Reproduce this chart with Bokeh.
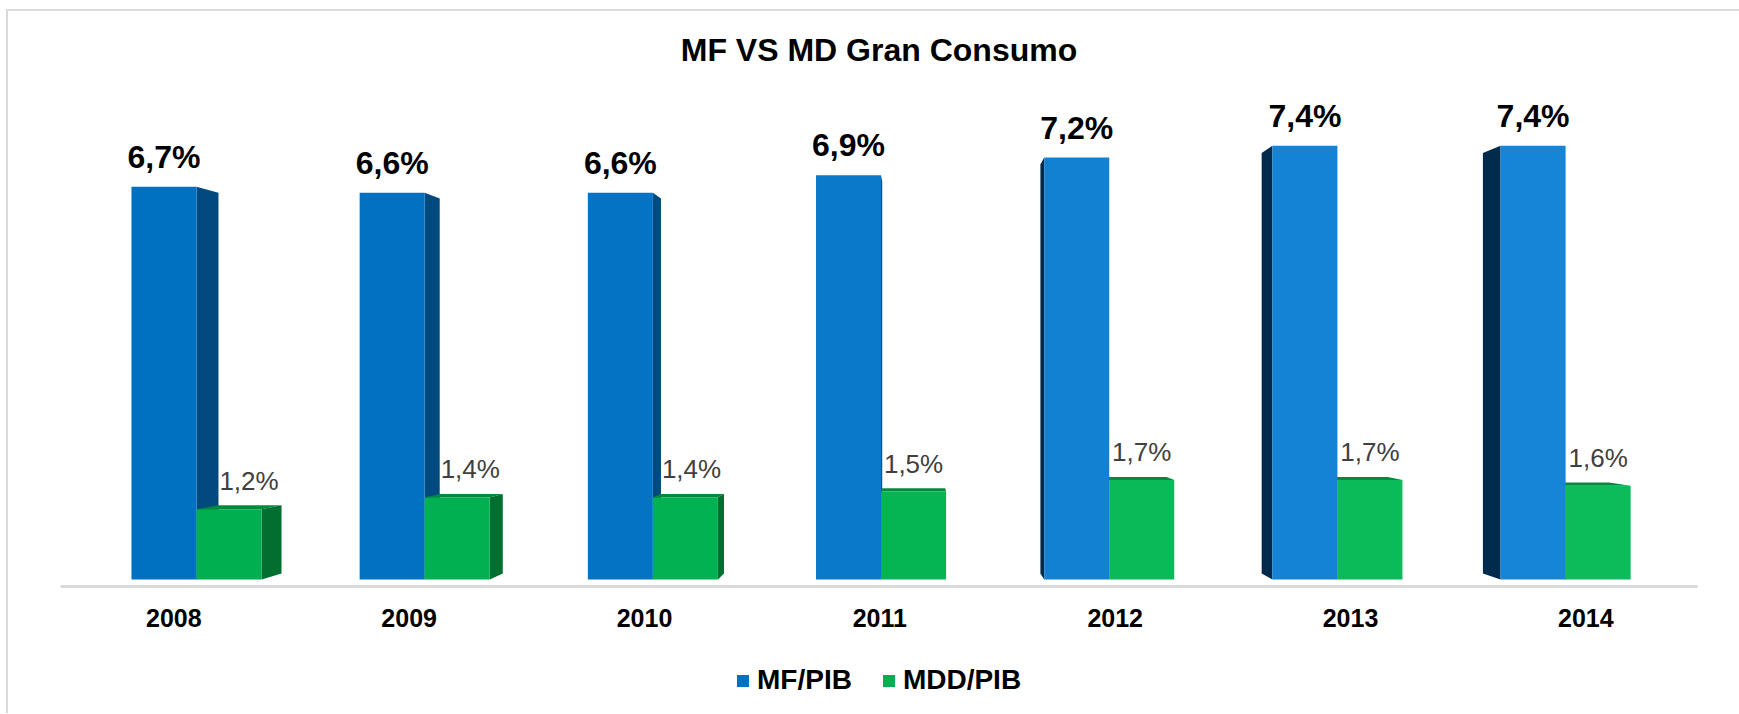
import numpy as np
from bokeh.plotting import figure
from bokeh.layouts import column
from bokeh.models import Range1d, FixedTicker, Legend, LegendItem, ColumnDataSource
from bokeh.core.properties import value
from bokeh.embed import file_html
from bokeh.resources import INLINE

# ---------------- data ----------------
years = ["2008", "2009", "2010", "2011", "2012", "2013", "2014"]
mf_pib = [6.7, 6.6, 6.6, 6.9, 7.2, 7.4, 7.4]
mdd_pib = [1.2, 1.4, 1.4, 1.5, 1.7, 1.7, 1.6]
series_names = ["MF/PIB", "MDD/PIB"]

# ---------------- style ----------------
FONT = "Liberation Sans"
BAR_W = 0.285                       # width of each bar (category units)
VX, VY, S = 3.168, 3.36, 0.9696     # perspective vanishing point & depth scale
mf_front_col = ["#0070C0", "#0271C1", "#0473C3", "#0A79C9", "#1281D2", "#1483D5", "#1685D7"]
mdd_front_col = ["#00B050", "#01B151", "#02B252", "#05B554", "#0AB957", "#0BBA58", "#0CBB59"]
MF_SIDE_R, MF_SIDE_L = "#004A80", "#002B4D"
MDD_SIDE_R, MDD_SIDE_L, MDD_TOP = "#006F2F", "#007A35", "#008A3C"
MF_LEGEND, MDD_LEGEND = "#0070C0", "#00B050"


def back(x, y):
    return VX + S * (x - VX), VY + S * (y - VY)


def side_faces(x0, x1, h):
    out = []
    if x1 < VX:
        bx0, by0 = back(x1, 0)
        bx1, by1 = back(x1, h)
        out.append(("R", [x1, x1, bx1, bx0], [0, h, by1, by0]))
    if x0 > VX:
        bx0, by0 = back(x0, 0)
        bx1, by1 = back(x0, h)
        out.append(("L", [x0, x0, bx1, bx0], [0, h, by1, by0]))
    return out


def top_face(x0, x1, h):
    if h < VY:
        ax, ay = back(x0, h)
        bx, by = back(x1, h)
        return [x0, x1, bx, ax], [h, h, by, ay]
    return None


idx = np.arange(len(years), dtype=float)
mf_x = idx - BAR_W / 2
mdd_x = idx + BAR_W / 2

p = figure(width=1731, height=635, output_backend="svg", toolbar_location=None,
           x_range=Range1d(-0.596, 6.578), y_range=Range1d(-0.119, 8.515),
           min_border_left=52, min_border_right=42, min_border_top=69, min_border_bottom=60)
p.background_fill_color = "white"
p.border_fill_color = "white"
p.outline_line_color = None
p.grid.visible = False
p.yaxis.visible = False

# side faces of MF bars
xs_r, ys_r, xs_l, ys_l = [], [], [], []
for i, h in enumerate(mf_pib):
    for kind, fx, fy in side_faces(mf_x[i] - BAR_W / 2, mf_x[i] + BAR_W / 2, h):
        (xs_r if kind == "R" else xs_l).append(fx)
        (ys_r if kind == "R" else ys_l).append(fy)
if xs_r:
    p.patches(xs_r, ys_r, fill_color=MF_SIDE_R, line_color=None)
if xs_l:
    p.patches(xs_l, ys_l, fill_color=MF_SIDE_L, line_color=None)

# top faces of MDD bars
tx, ty = [], []
for i, h in enumerate(mdd_pib):
    t = top_face(mdd_x[i] - BAR_W / 2, mdd_x[i] + BAR_W / 2, h)
    if t:
        tx.append(t[0]); ty.append(t[1])
if tx:
    p.patches(tx, ty, fill_color=MDD_TOP, line_color=None)

# side faces of MDD bars
gxs_r, gys_r, gxs_l, gys_l = [], [], [], []
mdd_side_w = []
for i, h in enumerate(mdd_pib):
    x0, x1 = mdd_x[i] - BAR_W / 2, mdd_x[i] + BAR_W / 2
    sw = (VX - x1) * (1 - S) if x1 < VX else 0.0
    mdd_side_w.append(sw)
    for kind, fx, fy in side_faces(x0, x1, h):
        (gxs_r if kind == "R" else gxs_l).append(fx)
        (gys_r if kind == "R" else gys_l).append(fy)
if gxs_l:
    p.patches(gxs_l, gys_l, fill_color=MDD_SIDE_L, line_color=None)
if gxs_r:
    p.patches(gxs_r, gys_r, fill_color=MDD_SIDE_R, line_color=None)

# front faces
mf_src = ColumnDataSource(dict(x=mf_x, top=mf_pib, color=mf_front_col))
mdd_src = ColumnDataSource(dict(x=mdd_x, top=mdd_pib, color=mdd_front_col))
p.vbar(x="x", top="top", bottom=0, width=BAR_W, fill_color="color", line_color=None, source=mf_src)
p.vbar(x="x", top="top", bottom=0, width=BAR_W, fill_color="color", line_color=None, source=mdd_src)

# value labels
fmt = lambda v: f"{v:.1f}%".replace(".", ",")
p.text(x=list(mf_x), y=mf_pib, text=[fmt(v) for v in mf_pib],
       text_font=value(FONT), text_font_size="32px", text_font_style="bold",
       text_color="#000000", text_align="center", text_baseline="alphabetic", y_offset=-30)
p.text(x=list(mdd_x + np.array(mdd_side_w)), y=mdd_pib, text=[fmt(v) for v in mdd_pib],
       text_font=value(FONT), text_font_size="26px", text_font_style="normal",
       text_color="#404040", text_align="center", text_baseline="alphabetic", y_offset=-28)

# category axis (labels sit on the floor front edge, in perspective)
ticks = [round(VX + (i - VX) / S, 6) for i in idx]
ax = p.xaxis[0]
ax.ticker = FixedTicker(ticks=ticks)
ax.major_label_overrides = {t: y for t, y in zip(ticks, years)}
ax.axis_line_color = "#D9D9D9"
ax.axis_line_width = 3
ax.major_tick_line_color = None
ax.minor_tick_line_color = None
ax.major_label_standoff = 16
ax.major_label_text_font = FONT
ax.major_label_text_font_size = "25px"
ax.major_label_text_font_style = "bold"
ax.major_label_text_color = "#000000"

# title
p.title.text = "MF VS MD Gran Consumo"
p.title.align = "center"
p.title.standoff = 25
p.title.text_font = FONT
p.title.text_font_size = "32px"
p.title.text_font_style = "bold"
p.title.text_color = "#000000"

# legend strip (separate figure so the legend is not clipped by the bar frame)
lg = figure(width=1731, height=67, output_backend="svg", toolbar_location=None,
            x_range=Range1d(0, 1), y_range=Range1d(0, 1),
            x_axis_type=None, y_axis_type=None, min_border=0)
lg.outline_line_color = None
lg.grid.visible = False
lg.background_fill_color = "white"
lg.border_fill_color = "white"
# zero-height placeholder bars: they only provide the legend swatches
r1 = lg.vbar(x="x", top="top", bottom="top", width=0.01, fill_color=MF_LEGEND, line_color=None,
             source=ColumnDataSource(dict(x=[0.5], top=[0.0])))
r2 = lg.vbar(x="x", top="top", bottom="top", width=0.01, fill_color=MDD_LEGEND, line_color=None,
             source=ColumnDataSource(dict(x=[0.5], top=[0.0])))
legend = Legend(items=[LegendItem(label=series_names[0], renderers=[r1], index=0),
                       LegendItem(label=series_names[1], renderers=[r2], index=0)],
                orientation="horizontal", location=(675, 17),
                glyph_width=15, glyph_height=15, label_standoff=7, spacing=29,
                padding=0, margin=0, border_line_color=None, background_fill_alpha=0,
                label_text_font=FONT, label_text_font_size="28px",
                label_text_font_style="bold", label_text_color="#000000")
lg.add_layout(legend)

layout = column(p, lg, spacing=0)
layout.styles = {"border-top": "2px solid #D9D9D9", "border-left": "2px solid #D9D9D9",
                 "margin-left": "6px", "margin-top": "9px"}

open("out.html", "w").write(file_html(layout, INLINE))
